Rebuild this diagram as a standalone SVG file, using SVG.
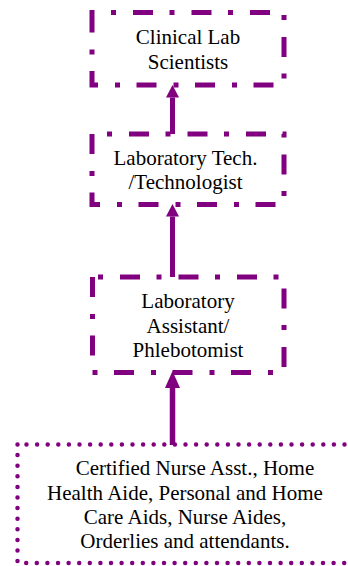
<svg xmlns="http://www.w3.org/2000/svg" width="348" height="566" viewBox="0 0 348 566">
  <defs>
    <style>
      .box { fill: none; stroke: #800080; stroke-width: 5; stroke-dasharray: 20 17 5 16.5; }
      .dotted { fill: none; stroke: #800080; stroke-width: 4.5; stroke-linecap: round; stroke-dasharray: 0 10.6; }
      .link { stroke: #800080; stroke-width: 5; fill: none; }
      .label { font-family: "Liberation Serif", "Times New Roman", serif; font-size: 21px; fill: #000; text-anchor: middle; }
    </style>
    <marker id="head" markerUnits="userSpaceOnUse" markerWidth="13" markerHeight="13" refX="0" refY="6.5" orient="auto">
      <path d="M0,0 L12.5,6.5 L0,13 z" fill="#800080"/>
    </marker>
    <marker id="head-lg" markerUnits="userSpaceOnUse" markerWidth="17" markerHeight="15" refX="0" refY="7.5" orient="auto">
      <path d="M0,0 L17,7.5 L0,15 z" fill="#800080"/>
    </marker>
  </defs>

  <rect width="348" height="566" fill="#fff"/>

  <!-- connectors -->
  <g id="connectors">
    <line class="link" x1="172.5" y1="134" x2="172.5" y2="97.5" marker-end="url(#head)"/>
    <line class="link" x1="172.5" y1="277" x2="172.5" y2="216.5" marker-end="url(#head)"/>
    <line class="link" x1="172.5" y1="445" x2="172.5" y2="388" style="stroke-width:5.5" marker-end="url(#head-lg)"/>
  </g>

  <!-- career ladder nodes -->
  <g id="clinical-lab-scientists">
    <path class="box" d="M92,12.5 V85 H284 V12.5 Z"/>
    <text class="label" x="188" y="44">Clinical Lab</text>
    <text class="label" x="188" y="68.5">Scientists</text>
  </g>

  <g id="lab-technologist">
    <path class="box" d="M92,134 V204.5 H284 V134 Z"/>
    <text class="label" x="185.5" y="165">Laboratory Tech.</text>
    <text class="label" x="185.5" y="189">/Technologist</text>
  </g>

  <g id="lab-assistant">
    <path class="box" d="M92.5,277 V372.5 H284 V277 Z"/>
    <text class="label" x="188" y="308">Laboratory</text>
    <text class="label" x="188" y="333">Assistant/</text>
    <text class="label" x="188" y="357">Phlebotomist</text>
  </g>

  <g id="entry-level">
    <path class="dotted" d="M17.5,444.5 V563 H354 V444.5 Z"/>
    <text class="label" x="195" y="475">Certified Nurse Asst., Home</text>
    <text class="label" x="185" y="500">Health Aide, Personal and Home</text>
    <text class="label" x="185" y="524">Care Aids, Nurse Aides,</text>
    <text class="label" x="185" y="548">Orderlies and attendants.</text>
  </g>
</svg>
